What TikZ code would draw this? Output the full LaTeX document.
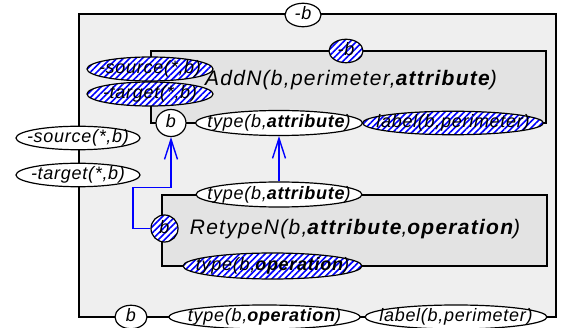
\documentclass[tikz,border=0pt]{standalone}
\usepackage{fontspec}
\setmainfont{Liberation Sans}
\newfontfamily\diafont{Liberation Sans}[LetterSpace=4]
\newfontfamily\titlefamily{Liberation Sans}[LetterSpace=6]
\usetikzlibrary{shapes.geometric,patterns.meta,arrows.meta}

\definecolor{outerfill}{HTML}{EFEFEF}
\definecolor{innerfill}{HTML}{E3E3E3}
\definecolor{hatchblue}{HTML}{0000FF}

\newcommand\lblfont{\diafont\itshape\fontsize{18}{20}\selectfont}
\newcommand\titlefont{\titlefamily\itshape\fontsize{21}{24}\selectfont}
% text that may run past the edge of its oval
\newcommand\ovtext[1]{\makebox[0pt]{#1}}

\tikzset{
  frame/.style={draw, line width=1.2pt},
  oval/.style={ellipse, draw, line width=1.2pt, inner sep=0pt,
    text height=13pt, text depth=3.6pt, font=\lblfont},
  plainoval/.style={oval, fill=white},
  hatchoval/.style={oval, preaction={fill=white},
    pattern={Lines[angle=45,distance=4.5pt,line width=1.6pt]},
    pattern color=hatchblue},
  title/.style={inner sep=0pt, font=\titlefont, text height=16pt, text depth=4.5pt},
  link/.style={draw=hatchblue, line width=1.4pt,
    -{Straight Barb[length=20pt,width=13pt]}},
}

\begin{document}
\begin{tikzpicture}[x=1pt,y=-1pt]
\useasboundingbox (0,0) rectangle (561,328);

% rule boxes
\path[frame, fill=outerfill] (79,14) rectangle (556,317);
\path[frame, fill=innerfill] (151,51) rectangle (546,123);
\path[frame, fill=innerfill] (162,195) rectangle (547,266);

% titles
\node[title] (addn) at (351,80) {AddN(b,perimeter,\textbf{attribute})};
\node[title] (retype) at (355,228.5) {RetypeN(b,\textbf{attribute},\textbf{operation})};

% outer rule
\node[plainoval, minimum width=36pt, minimum height=20pt] (mb) at (303,15) {\ovtext{-b}};
\node[plainoval, minimum width=124pt, minimum height=22pt] (src) at (78,138) {\ovtext{-source(*,b)}};
\node[plainoval, minimum width=124pt, minimum height=22pt] (tgt) at (78,175) {\ovtext{-target(*,b)}};
\node[plainoval, minimum width=32pt, minimum height=22pt] (b3) at (131,317) {\ovtext{b}};
\node[plainoval, minimum width=191pt, minimum height=24pt] (t4) at (264.5,317) {\ovtext{type(b,\textbf{operation})}};
\node[plainoval, minimum width=182pt, minimum height=24pt] (l4) at (456,317) {\ovtext{label(b,perimeter)}};

% AddN
\node[hatchoval, minimum width=34pt, minimum height=22pt] (hb) at (346,51) {\ovtext{-b}};
\node[hatchoval, minimum width=126pt, minimum height=24pt] (hsrc) at (150,69) {\ovtext{-source(*,b)}};
\node[hatchoval, minimum width=126pt, minimum height=24pt] (htgt) at (150,94) {\ovtext{-target(*,b)}};
\node[plainoval, minimum width=30pt, minimum height=27pt] (b1) at (171,123) {\ovtext{b}};
\node[plainoval, minimum width=167pt, minimum height=25pt] (t1) at (279,123) {\ovtext{type(b,\textbf{attribute})}};
\node[hatchoval, minimum width=181pt, minimum height=23pt] (l1) at (453,123) {\ovtext{label(b,perimeter)}};

% RetypeN
\node[plainoval, minimum width=166pt, minimum height=25pt] (t2) at (279,194.5) {\ovtext{type(b,\textbf{attribute})}};
\node[hatchoval, minimum width=27pt, minimum height=27pt] (b2) at (164.5,228.5) {\ovtext{b}};
\node[hatchoval, minimum width=179pt, minimum height=26pt] (t3) at (272.5,266) {\ovtext{type(b,\textbf{operation})}};

% matches
\coordinate (bend) at (133,187.5);
\draw[link] (t2.north) -- (t1.south);
\draw[link] (b2.west) -| (bend) -- (bend -| b1.south) -- (b1.south);
\end{tikzpicture}
\end{document}
